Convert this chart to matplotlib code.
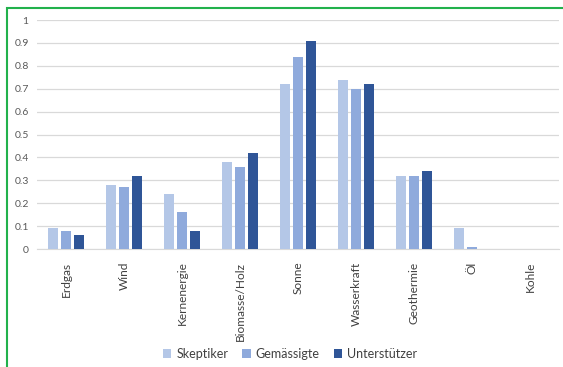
import matplotlib.pyplot as plt
import numpy as np
from matplotlib.patches import Rectangle

categories = ["Erdgas", "Wind", "Kernenergie", "Biomasse/Holz", "Sonne",
              "Wasserkraft", "Geothermie", "Öl", "Kohle"]
skeptiker = [0.09, 0.28, 0.24, 0.38, 0.72, 0.74, 0.32, 0.09, 0.0]
gemaessigte = [0.08, 0.27, 0.16, 0.36, 0.84, 0.70, 0.32, 0.01, 0.0]
unterstuetzer = [0.06, 0.32, 0.08, 0.42, 0.91, 0.72, 0.34, 0.0, 0.0]
series_names = ["Skeptiker", "Gemässigte", "Unterstützer"]
colors = ["#b4c7e7", "#8faadc", "#2f5597"]

plt.rcParams["font.family"] = ["Lato", "DejaVu Sans"]

fig = plt.figure(figsize=(5.63, 3.67), dpi=100)
ax = fig.add_axes([0.0657, 0.3215, 0.927, 0.624])

x = np.arange(len(categories))
w = 0.18
gap = 0.045
for i, (vals, name, c) in enumerate(zip([skeptiker, gemaessigte, unterstuetzer], series_names, colors)):
    ax.bar(x + (i - 1) * (w + gap), vals, width=w, color=c, label=name, zorder=3)

ax.set_xlim(-0.5, len(categories) - 0.5)
ax.set_ylim(0, 1)
ax.set_yticks(np.arange(0, 1.01, 0.1))
ax.set_yticklabels(["0", "0.1", "0.2", "0.3", "0.4", "0.5", "0.6", "0.7", "0.8", "0.9", "1"])
ax.set_xticks(x)
ax.set_xticklabels(categories, rotation=90)
ax.tick_params(axis="y", length=0, pad=6, labelsize=7.5, labelcolor="#595959")
ax.tick_params(axis="x", length=0, pad=9, labelsize=8.6, labelcolor="#404040")
ax.grid(axis="y", color="#d9d9d9", linewidth=0.9, zorder=0)
for s in ["top", "right", "left"]:
    ax.spines[s].set_visible(False)
ax.spines["bottom"].set_color("#d9d9d9")

fig.legend(loc="center", bbox_to_anchor=(290 / 563, 1 - 354 / 367), ncol=3, frameon=False,
           fontsize=9, handlelength=0.7, handleheight=0.7, handletextpad=0.4,
           columnspacing=1.1, labelcolor="#404040")

fig.add_artist(Rectangle((7 / 563, -0.1), 1.2, 1 - 8 / 367 + 0.1, transform=fig.transFigure,
                         fill=False, edgecolor="#22b14c", linewidth=1.5))

fig.savefig("out.png", dpi=100)
